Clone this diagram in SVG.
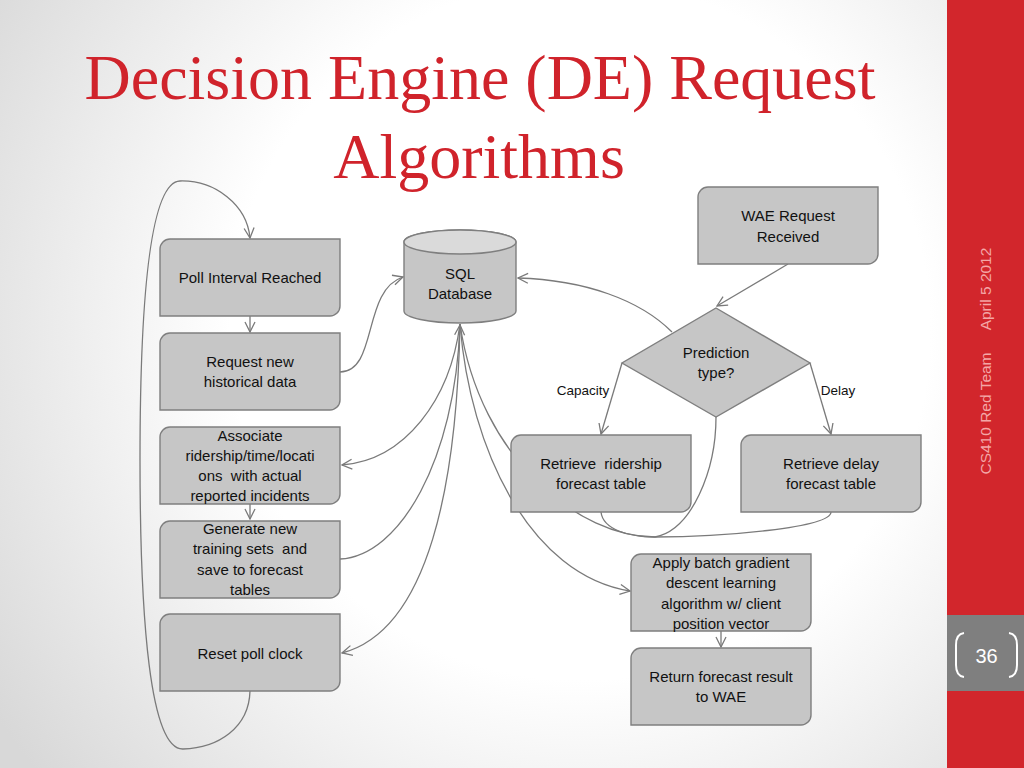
<svg xmlns="http://www.w3.org/2000/svg" width="1024" height="768" viewBox="0 0 1024 768">
<defs>
<radialGradient id="bg" cx="580" cy="330" r="700" gradientUnits="userSpaceOnUse">
<stop offset="0.5" stop-color="#ffffff"/>
<stop offset="1" stop-color="#d8d8d8"/>
</radialGradient>
<marker id="arr" viewBox="0 0 12 12" refX="11" refY="6" markerWidth="12" markerHeight="12" markerUnits="userSpaceOnUse" orient="auto">
<path d="M1,1 L11,6 L1,11" fill="none" stroke="#7a7a7a" stroke-width="1.3"/>
</marker>
<style>
.n{fill:#c6c6c6;stroke:#7f7f7f;stroke-width:1.4}
.t{font-family:"Liberation Sans",Arial,sans-serif;font-size:15px;fill:#111;text-anchor:middle;white-space:pre}
.l{font-family:"Liberation Sans",Arial,sans-serif;font-size:13.5px;fill:#111;text-anchor:middle}
.c{fill:none;stroke:#7a7a7a;stroke-width:1.3}
.a{marker-end:url(#arr)}
.title{font-family:"Liberation Serif","Times New Roman",serif;font-size:64px;fill:#d0232b;text-anchor:middle}
.side{font-family:"Liberation Sans",Arial,sans-serif;font-size:15.5px;fill:#f4a7a7;text-anchor:middle}
</style>
</defs>
<rect width="1024" height="768" fill="url(#bg)"/>
<rect x="947" y="0" width="77" height="768" fill="#d2262c"/>
<rect x="947" y="615" width="77" height="76" fill="#7f7f7f"/>
<path d="M964,633 Q956,634 956,645 V665 Q956,676 964,677" fill="none" stroke="#fff" stroke-width="2"/>
<path d="M1009,633 Q1017,634 1017,645 V665 Q1017,676 1009,677" fill="none" stroke="#fff" stroke-width="2"/>
<text x="986.5" y="663" font-family="Liberation Sans,Arial,sans-serif" font-size="20" fill="#fff" text-anchor="middle">36</text>
<text class="side" transform="translate(991,289) rotate(-90)">April 5 2012</text>
<text class="side" transform="translate(991,413.5) rotate(-90)">CS410 Red Team</text>

<text class="title" x="480" y="99">Decision Engine (DE) Request</text>
<text class="title" x="479" y="178">Algorithms</text>

<g id="connectors">
<path class="c a" d="M250,691 C249,728 218,748 183,749 C150,750 140,620 140,460 C140,300 150,182 180,181 C215,180 247,205 250,238"/>
<path class="c a" d="M250,316 V332"/>
<path class="c a" d="M340,372 C378,372 362,290 403,277"/>
<path class="c a" d="M460,324 C450,400 405,460 342,465"/>
<path class="c a" d="M250,504 V519"/>
<path class="c a" d="M340,559 C400,556 455,460 460,325"/>
<path class="c a" d="M460,324 C457,480 430,630 342,653"/>
<path class="c a" d="M672,332 C640,300 585,280 518,278"/>
<path class="c a" d="M788,264 L717,306"/>
<path class="c a" d="M622,363 L601,434"/>
<path class="c a" d="M810,363 L831,434"/>
<path class="c" d="M831,512 C831,528 720,537 655,537 C580,537 480,460 460,324"/>
<path class="c" d="M716,417 C716,470 692,530 655,537"/>
<path class="c" d="M601,512 C603,530 630,537 655,537"/>
<path class="c a" d="M460,324 C470,450 530,575 630,591"/>
<path class="c a" d="M721,631 V647"/>
</g>

<g id="poll"><path class="n" d="M170,239 H340 V306 A10,10 0 0 1 330,316 H160 V249 A10,10 0 0 1 170,239 Z"/><text class="t" x="250" y="283">Poll Interval Reached</text></g>
<g id="request"><path class="n" d="M170,333 H340 V400 A10,10 0 0 1 330,410 H160 V343 A10,10 0 0 1 170,333 Z"/><text class="t" x="250" y="367">Request new</text><text class="t" x="250" y="387">historical data</text></g>
<g id="associate"><path class="n" d="M170,427 H340 V494 A10,10 0 0 1 330,504 H160 V437 A10,10 0 0 1 170,427 Z"/><text class="t" x="250" y="441">Associate</text><text class="t" x="250" y="461">ridership/time/locati</text><text class="t" x="250" y="481">ons  with actual</text><text class="t" x="250" y="501">reported incidents</text></g>
<g id="generate"><path class="n" d="M170,521 H340 V588 A10,10 0 0 1 330,598 H160 V531 A10,10 0 0 1 170,521 Z"/><text class="t" x="250" y="534">Generate new</text><text class="t" x="250" y="554">training sets  and</text><text class="t" x="250" y="575">save to forecast</text><text class="t" x="250" y="595">tables</text></g>
<g id="reset"><path class="n" d="M170,614 H340 V681 A10,10 0 0 1 330,691 H160 V624 A10,10 0 0 1 170,614 Z"/><text class="t" x="250" y="659">Reset poll clock</text></g>
<g id="sql"><path class="n" d="M404,242 V311 A56,12 0 0 0 516,311 V242 A56,12 0 0 0 404,242 Z"/><ellipse cx="460" cy="242" rx="56" ry="12" fill="#dadada" stroke="#7f7f7f" stroke-width="1.4"/><text class="t" x="460" y="279">SQL</text><text class="t" x="460" y="299">Database</text></g>
<g id="wae"><path class="n" d="M708,187 H878 V254 A10,10 0 0 1 868,264 H698 V197 A10,10 0 0 1 708,187 Z"/><text class="t" x="788" y="221">WAE Request</text><text class="t" x="788" y="242">Received</text></g>
<g id="decision"><path class="n" d="M716,308 L810,363 L716,417 L622,363 Z"/><text class="t" x="716" y="358">Prediction</text><text class="t" x="716" y="378">type?</text></g>
<g id="ridership"><path class="n" d="M521,435 H691 V502 A10,10 0 0 1 681,512 H511 V445 A10,10 0 0 1 521,435 Z"/><text class="t" x="601" y="469">Retrieve  ridership</text><text class="t" x="601" y="489">forecast table</text></g>
<g id="delay"><path class="n" d="M751,435 H921 V502 A10,10 0 0 1 911,512 H741 V445 A10,10 0 0 1 751,435 Z"/><text class="t" x="831" y="469">Retrieve delay</text><text class="t" x="831" y="489">forecast table</text></g>
<g id="apply"><path class="n" d="M641,554 H811 V621 A10,10 0 0 1 801,631 H631 V564 A10,10 0 0 1 641,554 Z"/><text class="t" x="721" y="568">Apply batch gradient</text><text class="t" x="721" y="588">descent learning</text><text class="t" x="721" y="609">algorithm w/ client</text><text class="t" x="721" y="629">position vector</text></g>
<g id="return"><path class="n" d="M641,648 H811 V715 A10,10 0 0 1 801,725 H631 V658 A10,10 0 0 1 641,648 Z"/><text class="t" x="721" y="682">Return forecast result</text><text class="t" x="721" y="702">to WAE</text></g>
<text class="l" x="583" y="395">Capacity</text>
<text class="l" x="838" y="395">Delay</text>
</svg>
